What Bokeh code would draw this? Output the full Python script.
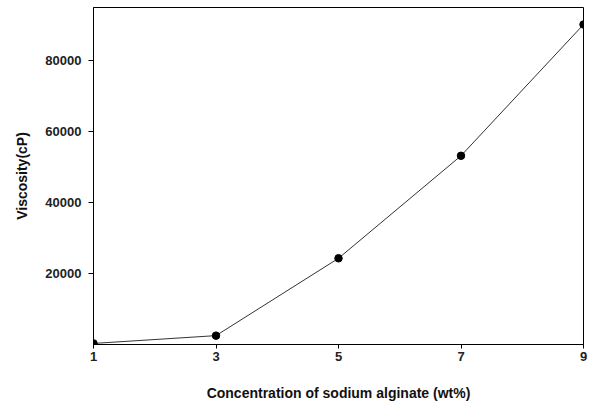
from bokeh.plotting import figure
from bokeh.models import Range1d, FixedTicker, NumeralTickFormatter
from bokeh.embed import file_html
from bokeh.resources import INLINE

concentration = [1, 3, 5, 7, 9]
viscosity = [300, 2500, 24300, 53200, 90200]
x_ticks = [1, 3, 5, 7, 9]
y_ticks = [20000, 40000, 60000, 80000]

p = figure(frame_width=490, frame_height=337, output_backend="svg", toolbar_location=None,
           x_range=Range1d(1, 9), y_range=Range1d(0, 95000),
           min_border_left=93, min_border_right=6, min_border_top=7, min_border_bottom=0)

p.line(concentration, viscosity, line_color="#333333", line_width=1)
p.scatter(concentration, viscosity, size=7.5, fill_color="black", line_color="black")

p.grid.visible = False
p.outline_line_color = "black"
p.outline_line_width = 1

font = "Liberation Sans"
p.xaxis.ticker = FixedTicker(ticks=x_ticks)
p.yaxis.ticker = FixedTicker(ticks=y_ticks)
p.yaxis.formatter = NumeralTickFormatter(format="0")
for ax in (p.xaxis[0], p.yaxis[0]):
    ax.axis_line_color = "black"
    ax.major_tick_line_color = "black"
    ax.minor_tick_line_color = None
    ax.major_tick_in = 0
    ax.major_tick_out = 5
    ax.major_label_text_font = font
    ax.major_label_text_font_style = "bold"
    ax.major_label_text_font_size = "13px"
    ax.major_label_text_color = "#222222"
    ax.axis_label_text_font = font
    ax.axis_label_text_font_style = "bold"
    ax.axis_label_text_font_size = "14px"
    ax.axis_label_text_color = "#111111"

p.xaxis.axis_label = "Concentration of sodium alginate (wt%)"
p.yaxis.axis_label = "Viscosity(cP)"
p.xaxis.major_tick_out = 4
p.xaxis.major_label_standoff = 3
p.yaxis.major_label_standoff = 7
p.xaxis.axis_label_standoff = 21
p.yaxis.axis_label_standoff = 12

open("out.html", "w").write(file_html(p, INLINE))
